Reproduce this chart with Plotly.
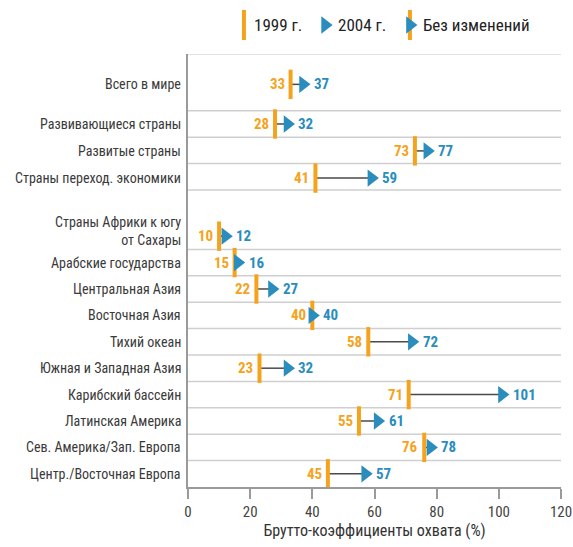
import plotly.graph_objects as go

# Gross enrolment ratios, 1999 vs 2004
regions = ["Всего в мире", "Развивающиеся страны", "Развитые страны",
           "Страны переход. экономики", "Страны Африки к югу<br>от Сахары",
           "Арабские государства", "Центральная Азия", "Восточная Азия",
           "Тихий океан", "Южная и Западная Азия", "Карибский бассейн",
           "Латинская Америка", "Сев. Америка/Зап. Европа",
           "Центр./Восточная Европа"]
val_1999 = [33, 28, 73, 41, 10, 15, 22, 40, 58, 23, 71, 55, 76, 45]
val_2004 = [37, 32, 77, 59, 12, 16, 27, 40, 72, 32, 101, 61, 78, 57]
x_ticks = [0, 20, 40, 60, 80, 100, 120]
legend_names = ["1999 г.", "2004 г.", "Без изменений"]

# layout: row centres and separator lines (in row units from the top)
row_y = [1.15, 2.65, 3.67, 4.7, 6.9, 7.9, 8.9, 9.9, 10.9, 11.9, 12.9, 13.9, 14.9, 15.9]
sep_y = [2.15, 3.15, 4.15, 5.15, 7.4, 8.4, 9.4, 10.4, 11.4, 12.4, 13.4, 14.4, 15.4]
Y_MAX = 16.4

ORANGE = "#F5A31C"
BLUE = "#2A8DBE"
FONT = "Roboto Condensed, Roboto, sans-serif"

fig = go.Figure()

# connecting lines
lx, ly = [], []
for a, b, y in zip(val_1999, val_2004, row_y):
    lx += [a, b, None]
    ly += [y, y, None]
fig.add_trace(go.Scatter(x=lx, y=ly, mode="lines", line=dict(color="#4a4a4a", width=1.5),
                         hoverinfo="skip", showlegend=False))

fig.add_trace(go.Scatter(x=val_1999, y=row_y, mode="markers", showlegend=False,
                         marker=dict(symbol="line-ns", size=21,
                                     line=dict(color=ORANGE, width=4))))
fig.add_trace(go.Scatter(x=val_2004, y=row_y, mode="markers", showlegend=False,
                         marker=dict(symbol="triangle-right", size=15, color=BLUE,
                                     line=dict(width=0))))

annotations = []
for a, b, y in zip(val_1999, val_2004, row_y):
    annotations.append(dict(x=a, y=y, xref="x", yref="y", text=str(a), showarrow=False,
                            xanchor="right", xshift=-4,
                            font=dict(family=FONT, size=15, color=ORANGE, weight="bold")))
    annotations.append(dict(x=b, y=y, xref="x", yref="y", text=str(b), showarrow=False,
                            xanchor="left", xshift=9,
                            font=dict(family=FONT, size=15, color=BLUE, weight="bold")))

# category labels
for name, y in zip(regions, row_y):
    shift = 5.5 if "<br>" in name else 0
    annotations.append(dict(x=0, y=y, xref="paper", yref="y", text=name, showarrow=False,
                            xanchor="right", xshift=-5, yshift=shift, align="right",
                            font=dict(family=FONT, size=14, color="#3a3a3a")))

shapes = [dict(type="line", xref="x", yref="y", x0=0, x1=120, y0=0, y1=0,
               line=dict(color="#e2e2e2", width=2))]
for s in sep_y:
    shapes.append(dict(type="line", xref="x", yref="y", x0=0, x1=120, y0=s, y1=s,
                       line=dict(color="#cfcfcf", width=1.5), layer="below"))

# legend drawn on a small helper axis above the plot
leg_x = [18.0, 44.1, 71.4]
fig.add_trace(go.Scatter(x=[leg_x[0], leg_x[2]], y=[0.5, 0.5], xaxis="x2", yaxis="y2",
                         mode="markers", showlegend=False, hoverinfo="skip",
                         marker=dict(symbol="line-ns", size=23, line=dict(color=ORANGE, width=4))))
fig.add_trace(go.Scatter(x=[leg_x[1], leg_x[2]], y=[0.5, 0.5], xaxis="x2", yaxis="y2",
                         mode="markers", showlegend=False, hoverinfo="skip",
                         marker=dict(symbol="triangle-right", size=15, color=BLUE, line=dict(width=0))))
for lx_, txt, sh in zip(leg_x, legend_names, [8, 11, 11]):
    annotations.append(dict(x=lx_, y=0.5, xref="x2", yref="y2", text=txt, showarrow=False,
                            xanchor="left", xshift=sh,
                            font=dict(family=FONT, size=17, color="#222222")))

W, HT = 573, 547
H = HT - 0 - 60
fig.update_layout(
    width=W, height=HT,
    margin=dict(l=188, r=12, t=0, b=60),
    plot_bgcolor="white", paper_bgcolor="white",
    xaxis=dict(range=[0, 120], tickvals=x_ticks, showgrid=False, zeroline=False,
               showline=True, linecolor="#9a9a9a", linewidth=1.5,
               ticks="outside", ticklen=10, tickwidth=1.5, tickcolor="#9a9a9a",
               tickfont=dict(family=FONT, size=15, color="#444444"),
               title=dict(text="Брутто-коэффициенты охвата (%)", standoff=4,
                          font=dict(family=FONT, size=16, color="#333333"))),
    yaxis=dict(range=[Y_MAX, 0], domain=[0, 433 / H], showgrid=False, zeroline=False,
               showticklabels=False, showline=True, linecolor="#9a9a9a", linewidth=1.5),
    xaxis2=dict(range=[0, 120], anchor="y2", visible=False),
    yaxis2=dict(range=[0, 1], domain=[(H - 40) / H, (H - 10) / H], anchor="x2", visible=False),
    annotations=annotations,
    shapes=shapes,
)

# drop the page's default body margin so the figure fills the window exactly
fig.write_html("out.html", config={"displayModeBar": False},
               post_script="document.body.style.margin='0';document.body.style.overflow='hidden';")
